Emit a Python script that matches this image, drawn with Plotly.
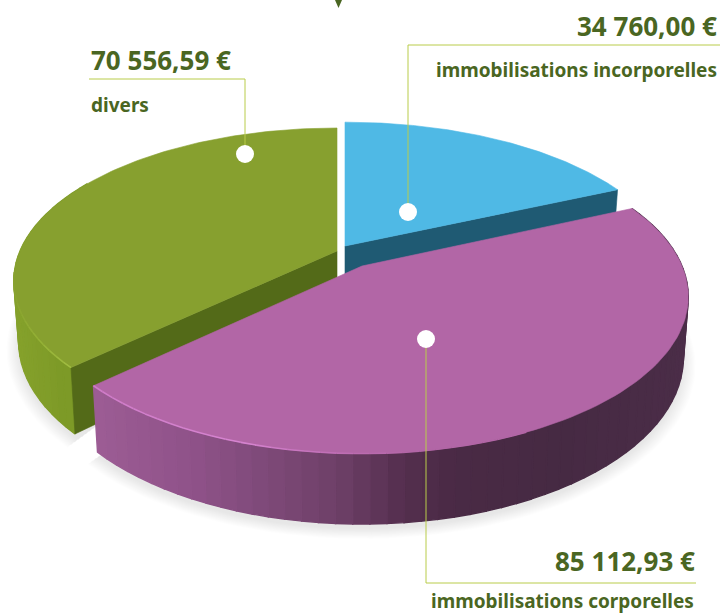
import numpy as np
import plotly.graph_objects as go

# ---- data ----
labels = ["immobilisations incorporelles", "immobilisations corporelles", "divers"]
values = [34760.00, 85112.93, 70556.59]
value_texts = ["34 760,00 €", "85 112,93 €", "70 556,59 €"]

# ---- projection of the tilted disc, in page pixels ----
P = 0.195
H = 59
SHRINK = 0.985
geo = {
    "blue":  dict(cx=345, cy=246, A=323, B=148),
    "pink":  dict(cx=362, cy=266, A=320, B=151),
    "green": dict(cx=337, cy=251, A=317, B=147),
}

total = sum(values)
bounds = np.cumsum([0] + values) / total * 360


def top(g, deg):
    t = np.radians(deg)
    X, Y = np.sin(t), np.cos(t)
    s = 1 / (1 + P * Y)
    return g["cx"] + g["A"] * X * s, g["cy"] - g["B"] * Y * s


def bottom(g, deg):
    t = np.radians(deg)
    X, Y = np.sin(t), np.cos(t)
    s = 1 / (1 + P * Y)
    return g["cx"] + SHRINK * g["A"] * X * s, g["cy"] - SHRINK * g["B"] * Y * s + H * s


def lerp_color(x, stops):
    xs = [a for a, _ in stops]
    r = np.interp(x, xs, [int(c[1:3], 16) for _, c in stops])
    gg = np.interp(x, xs, [int(c[3:5], 16) for _, c in stops])
    b = np.interp(x, xs, [int(c[5:7], 16) for _, c in stops])
    return f"rgb({r:.0f},{gg:.0f},{b:.0f})"


fig = go.Figure()


def poly(xs, ys, color, width=0.6):
    xs, ys = list(xs), list(ys)
    fig.add_trace(go.Scatter(
        x=xs + xs[:1], y=ys + ys[:1], mode="lines", fill="toself",
        fillcolor=color,
        line=dict(color=color, width=width),
        hoverinfo="skip", showlegend=False))


def shadow(g, a0, a1):
    for k in range(12):
        grow = 1 + 0.0035 * k
        th = np.linspace(a0, a1, 60)
        pts = [bottom(g, d) for d in th]
        xs = [g["cx"] + (p[0] - g["cx"]) * grow for p in pts]
        ys = [g["cy"] + 5 + (p[1] - g["cy"]) * grow for p in pts]
        poly(xs + [g["cx"]], ys + [g["cy"]], "rgba(0,0,0,0.008)", width=0)


def walls(g, a0, a1, stops, n=48):
    th = np.linspace(a0, a1, n + 1)
    for d0, d1 in zip(th[:-1], th[1:]):
        t0, t1 = top(g, d0), top(g, d1)
        b0, b1 = bottom(g, d0), bottom(g, d1)
        col = lerp_color((t0[0] + t1[0]) / 2, stops)
        poly([t0[0], t1[0], b1[0], b0[0]], [t0[1], t1[1], b1[1], b0[1]], col, width=1.4)


def cut_face(g, deg, color):
    t = top(g, deg)
    b = bottom(g, deg)
    poly([t[0], g["cx"], g["cx"], b[0]], [t[1], g["cy"], g["cy"] + H, b[1]], color)


def top_face(g, a0, a1, color):
    th = np.linspace(a0, a1, 120)
    pts = [top(g, d) for d in th]
    poly([p[0] for p in pts] + [g["cx"]], [p[1] for p in pts] + [g["cy"]], color)


def rim(g, a0, a1, stops, n=40, width=1.6):
    th = np.linspace(a0, a1, n + 1)
    for d0, d1 in zip(th[:-1], th[1:]):
        t0, t1 = top(g, d0), top(g, d1)
        fig.add_trace(go.Scatter(
            x=[t0[0], t1[0]], y=[t0[1], t1[1]], mode="lines",
            line=dict(color=lerp_color(t0[0], stops), width=width),
            hoverinfo="skip", showlegend=False))


blue, pink, green = geo["blue"], geo["pink"], geo["green"]
a_b0, a_b1 = bounds[0], bounds[1]
a_p0, a_p1 = bounds[1], bounds[2]
a_g0, a_g1 = bounds[2], bounds[3]

# shadows
shadow(green, 226, 300)
shadow(pink, 85, a_p1)

# blue slice
cut_face(blue, a_b1, "#1f5a73")
top_face(blue, a_b0, a_b1, "#4fb9e5")

# green slice
walls(green, a_g0, 300, [(10, "#86a22c"), (60, "#7d9a27"), (90, "#7b9a27")], n=30)
cut_face(green, a_g0, "#536a18")
top_face(green, a_g0, a_g1, "#87a02f")
rim(green, a_g0, 262, [(10, "#87a02f"), (40, "#94b035"), (80, "#a3bf45")], n=16)

# pink slice
walls(pink, a_p0, a_p1, [
    (97, "#9c5c94"), (190, "#8f5289"), (260, "#7f4a7a"), (340, "#6d3f67"),
    (400, "#552f4f"), (450, "#4a2a45"), (560, "#462a43"), (690, "#4b2d48")], n=64)
top_face(pink, a_p0, a_p1, "#b266a6")
rim(pink, 155, a_p1, [(93, "#cf7cc8"), (250, "#d684d0"), (340, "#c06fb6"), (420, "#b266a6")], n=30)

# leader lines and dots
LINE = "#b9cc4a"
leaders = [
    [(408, 212), (408, 45), (720, 45)],
    [(426, 339), (426, 583), (696, 583)],
    [(245, 154), (245, 79), (89, 79)],
]
for pts in leaders:
    fig.add_trace(go.Scatter(
        x=[p[0] for p in pts], y=[p[1] for p in pts], mode="lines",
        line=dict(color=LINE, width=1), hoverinfo="skip", showlegend=False))
fig.add_trace(go.Scatter(
    x=[p[0][0] for p in leaders], y=[p[0][1] for p in leaders], mode="markers",
    marker=dict(color="white", size=18, line=dict(width=0)),
    hoverinfo="skip", showlegend=False))

TXT = "#4a6622"
NUM = dict(family="Noto Sans", size=26, color=TXT, weight=700)
LAB = dict(family="Noto Sans", size=19, color=TXT, weight=700)
anns = [
    dict(x=719, y=26, text=value_texts[0], xanchor="right", font=NUM),
    dict(x=719, y=70, text=labels[0], xanchor="right", font=LAB),
    dict(x=697, y=561, text=value_texts[1], xanchor="right", font=NUM),
    dict(x=696, y=601, text=labels[1], xanchor="right", font=LAB),
    dict(x=89, y=60, text=value_texts[2], xanchor="left", font=NUM),
    dict(x=89, y=105, text=labels[2], xanchor="left", font=LAB),
]
for a in anns:
    a.update(showarrow=False, xref="x", yref="y", yanchor="middle")

fig.update_layout(
    width=721, height=615, margin=dict(l=0, r=0, t=0, b=0),
    paper_bgcolor="white", plot_bgcolor="white", showlegend=False,
    xaxis=dict(range=[0, 721], visible=False, fixedrange=True),
    yaxis=dict(range=[615, 0], visible=False, fixedrange=True),
    annotations=anns,
    shapes=[dict(type="path", path="M 335 0 L 342 0 L 338.5 8 Z", xref="x", yref="y",
                 fillcolor="#4a6622", line=dict(width=0))],
)
fig.write_html("out.html", config=dict(displayModeBar=False),
               post_script="document.body.style.margin='0';document.documentElement.style.overflow='hidden';")
